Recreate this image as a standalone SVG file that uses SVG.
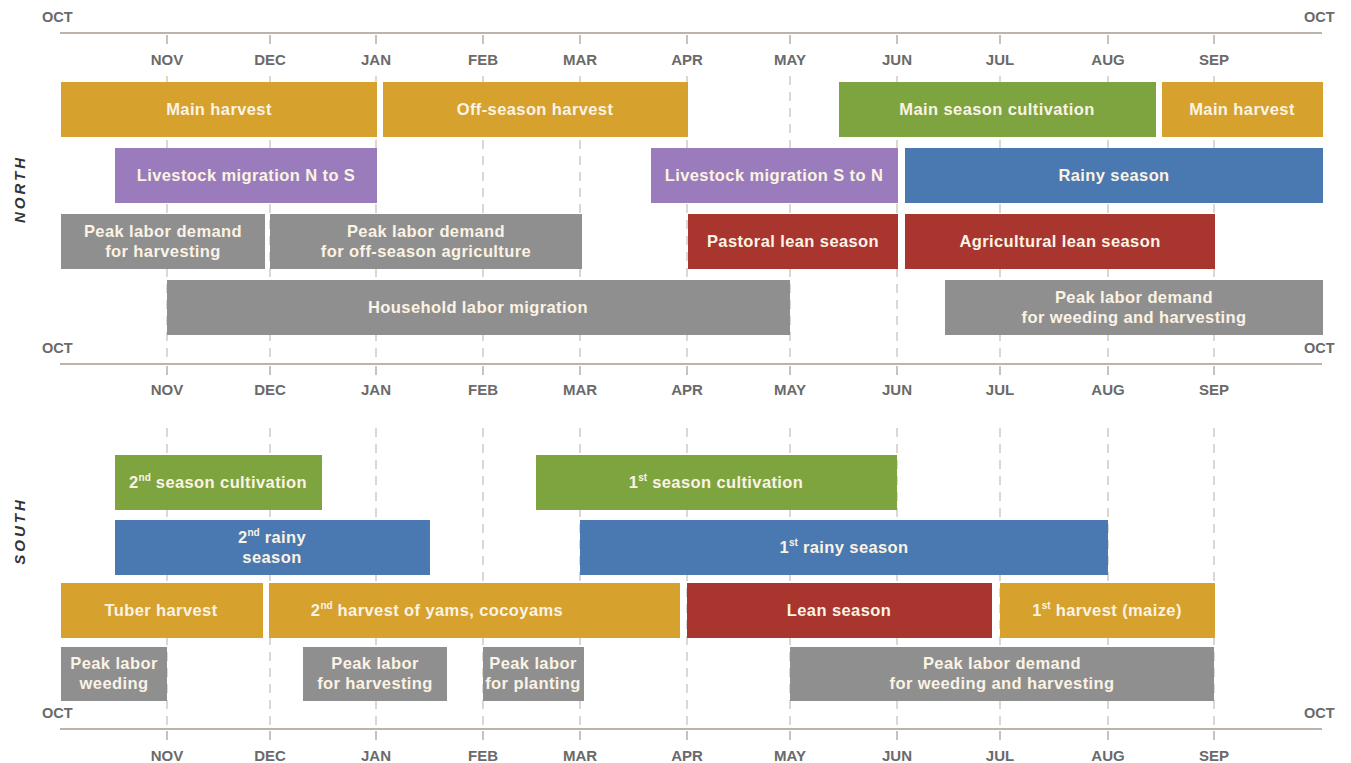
<svg xmlns="http://www.w3.org/2000/svg" width="1351" height="763" viewBox="0 0 1351 763">
<style>
.axis{stroke:#a69a8e;stroke-width:1.5;fill:none}
.tick{stroke:#b8aea4;stroke-width:1.5}
.grid{stroke:#d2cac2;stroke-width:1.5;stroke-dasharray:9 7;fill:none}
.mon{font-family:"Liberation Sans",Arial,sans-serif;font-weight:bold;font-size:15px;fill:#6a6a6a;text-anchor:middle}
.oct{font-family:"Liberation Sans",Arial,sans-serif;font-weight:bold;font-size:14.5px;fill:#6a6a6a}
.side{font-family:"Liberation Sans",Arial,sans-serif;font-weight:bold;font-style:italic;font-size:15px;fill:#333;letter-spacing:3px;text-anchor:middle}
.lbl{font-family:"Liberation Sans",Arial,sans-serif;font-weight:bold;font-size:16.5px;letter-spacing:0.4px;fill:#fbf3e4;text-anchor:middle;dominant-baseline:central}
.sup{font-size:10px;letter-spacing:0}
.gold{fill:#d6a12c}
.green{fill:#7da43e}
.purple{fill:#9a7cbd}
.blue{fill:#4a79b1}
.red{fill:#a8352e}
.gray{fill:#8f8f8f}
</style>
<rect width="1351" height="763" fill="#ffffff"/>
<g id="axes">
<text class="oct" x="42" y="22">OCT</text>
<text class="oct" x="1304" y="22">OCT</text>
<line class="axis" x1="60" y1="33" x2="1322" y2="33"/>
<text class="oct" x="42" y="353">OCT</text>
<text class="oct" x="1304" y="353">OCT</text>
<line class="axis" x1="60" y1="364" x2="1322" y2="364"/>
<text class="oct" x="42" y="718">OCT</text>
<text class="oct" x="1304" y="718">OCT</text>
<line class="axis" x1="60" y1="729" x2="1322" y2="729"/>
<g id="ticks">
<path class="tick" d="M167 35v9M270 35v9M376 35v9M483 35v9M580 35v9M687 35v9M790 35v9M897 35v9M1000 35v9M1108 35v9M1214 35v9"/>
<path class="tick" d="M167 366v9M270 366v9M376 366v9M483 366v9M580 366v9M687 366v9M790 366v9M897 366v9M1000 366v9M1108 366v9M1214 366v9"/>
<path class="tick" d="M167 731v9M270 731v9M376 731v9M483 731v9M580 731v9M687 731v9M790 731v9M897 731v9M1000 731v9M1108 731v9M1214 731v9"/>
</g>
<g id="grid">
<path class="grid" d="M167 76V362M270 76V362M376 76V362M483 76V362M580 76V362M687 76V362M790 76V362M897 76V362M1000 76V362M1108 76V362M1214 76V362"/>
<path class="grid" d="M167 428V727M270 428V727M376 428V727M483 428V727M580 428V727M687 428V727M790 428V727M897 428V727M1000 428V727M1108 428V727M1214 428V727"/>
</g>
<g id="months">
<text class="mon" x="167" y="65">NOV</text><text class="mon" x="270" y="65">DEC</text><text class="mon" x="376" y="65">JAN</text><text class="mon" x="483" y="65">FEB</text><text class="mon" x="580" y="65">MAR</text><text class="mon" x="687" y="65">APR</text><text class="mon" x="790" y="65">MAY</text><text class="mon" x="897" y="65">JUN</text><text class="mon" x="1000" y="65">JUL</text><text class="mon" x="1108" y="65">AUG</text><text class="mon" x="1214" y="65">SEP</text>
<text class="mon" x="167" y="395">NOV</text><text class="mon" x="270" y="395">DEC</text><text class="mon" x="376" y="395">JAN</text><text class="mon" x="483" y="395">FEB</text><text class="mon" x="580" y="395">MAR</text><text class="mon" x="687" y="395">APR</text><text class="mon" x="790" y="395">MAY</text><text class="mon" x="897" y="395">JUN</text><text class="mon" x="1000" y="395">JUL</text><text class="mon" x="1108" y="395">AUG</text><text class="mon" x="1214" y="395">SEP</text>
<text class="mon" x="167" y="761">NOV</text><text class="mon" x="270" y="761">DEC</text><text class="mon" x="376" y="761">JAN</text><text class="mon" x="483" y="761">FEB</text><text class="mon" x="580" y="761">MAR</text><text class="mon" x="687" y="761">APR</text><text class="mon" x="790" y="761">MAY</text><text class="mon" x="897" y="761">JUN</text><text class="mon" x="1000" y="761">JUL</text><text class="mon" x="1108" y="761">AUG</text><text class="mon" x="1214" y="761">SEP</text>
</g>
<text class="side" transform="translate(25 189) rotate(-90)">NORTH</text>
<text class="side" transform="translate(25 531) rotate(-90)">SOUTH</text>
</g>
<g id="north">
<g id="n-main-harvest-1"><rect class="gold" x="61" y="82" width="316" height="55"/><text class="lbl" x="219" y="109">Main harvest</text></g>
<g id="n-offseason-harvest"><rect class="gold" x="383" y="82" width="305" height="55"/><text class="lbl" x="535" y="109">Off-season harvest</text></g>
<g id="n-main-cultivation"><rect class="green" x="839" y="82" width="317" height="55"/><text class="lbl" x="997" y="109">Main season cultivation</text></g>
<g id="n-main-harvest-2"><rect class="gold" x="1162" y="82" width="161" height="55"/><text class="lbl" x="1242" y="109">Main harvest</text></g>
<g id="n-livestock-ns"><rect class="purple" x="115" y="148" width="262" height="55"/><text class="lbl" x="246" y="175">Livestock migration N to S</text></g>
<g id="n-livestock-sn"><rect class="purple" x="651" y="148" width="247" height="55"/><text class="lbl" x="774" y="175">Livestock migration S to N</text></g>
<g id="n-rainy"><rect class="blue" x="905" y="148" width="418" height="55"/><text class="lbl" x="1114" y="175">Rainy season</text></g>
<g id="n-peak-harvesting"><rect class="gray" x="61" y="214" width="204" height="55"/><text class="lbl" x="163" y="231">Peak labor demand</text><text class="lbl" x="163" y="251">for harvesting</text></g>
<g id="n-peak-offseason"><rect class="gray" x="270" y="214" width="312" height="55"/><text class="lbl" x="426" y="231">Peak labor demand</text><text class="lbl" x="426" y="251">for off-season agriculture</text></g>
<g id="n-pastoral-lean"><rect class="red" x="688" y="214" width="210" height="55"/><text class="lbl" x="793" y="241">Pastoral lean season</text></g>
<g id="n-agri-lean"><rect class="red" x="905" y="214" width="310" height="55"/><text class="lbl" x="1060" y="241">Agricultural lean season</text></g>
<g id="n-household"><rect class="gray" x="167" y="280" width="623" height="55"/><text class="lbl" x="478" y="307">Household labor migration</text></g>
<g id="n-peak-weeding"><rect class="gray" x="945" y="280" width="378" height="55"/><text class="lbl" x="1134" y="297">Peak labor demand</text><text class="lbl" x="1134" y="317">for weeding and harvesting</text></g>
</g>
<g id="south">
<g id="s-2nd-cultivation"><rect class="green" x="115" y="455" width="207" height="55"/><text class="lbl" x="218" y="482">2<tspan class="sup" dy="-5">nd</tspan><tspan dy="5"> season cultivation</tspan></text></g>
<g id="s-1st-cultivation"><rect class="green" x="536" y="455" width="361" height="55"/><text class="lbl" x="716" y="482">1<tspan class="sup" dy="-5">st</tspan><tspan dy="5"> season cultivation</tspan></text></g>
<g id="s-2nd-rainy"><rect class="blue" x="115" y="520" width="315" height="55"/><text class="lbl" x="272" y="537">2<tspan class="sup" dy="-5">nd</tspan><tspan dy="5"> rainy</tspan></text><text class="lbl" x="272" y="557">season</text></g>
<g id="s-1st-rainy"><rect class="blue" x="580" y="520" width="528" height="55"/><text class="lbl" x="844" y="547">1<tspan class="sup" dy="-5">st</tspan><tspan dy="5"> rainy season</tspan></text></g>
<g id="s-tuber"><rect class="gold" x="61" y="583" width="202" height="55"/><text class="lbl" x="161" y="610">Tuber harvest</text></g>
<g id="s-yams"><rect class="gold" x="269" y="583" width="411" height="55"/><text class="lbl" x="437" y="610">2<tspan class="sup" dy="-5">nd</tspan><tspan dy="5"> harvest of yams, cocoyams</tspan></text></g>
<g id="s-lean"><rect class="red" x="687" y="583" width="305" height="55"/><text class="lbl" x="839" y="610">Lean season</text></g>
<g id="s-maize"><rect class="gold" x="1000" y="583" width="215" height="55"/><text class="lbl" x="1107" y="610">1<tspan class="sup" dy="-5">st</tspan><tspan dy="5"> harvest (maize)</tspan></text></g>
<g id="s-peak-weeding"><rect class="gray" x="61" y="647" width="106" height="54"/><text class="lbl" x="114" y="663">Peak labor</text><text class="lbl" x="114" y="683">weeding</text></g>
<g id="s-peak-harvesting"><rect class="gray" x="303" y="647" width="144" height="54"/><text class="lbl" x="375" y="663">Peak labor</text><text class="lbl" x="375" y="683">for harvesting</text></g>
<g id="s-peak-planting"><rect class="gray" x="483" y="647" width="101" height="54"/><text class="lbl" x="533" y="663">Peak labor</text><text class="lbl" x="533" y="683">for planting</text></g>
<g id="s-peak-weeding-harvest"><rect class="gray" x="790" y="647" width="424" height="54"/><text class="lbl" x="1002" y="663">Peak labor demand</text><text class="lbl" x="1002" y="683">for weeding and harvesting</text></g>
</g>
</svg>
